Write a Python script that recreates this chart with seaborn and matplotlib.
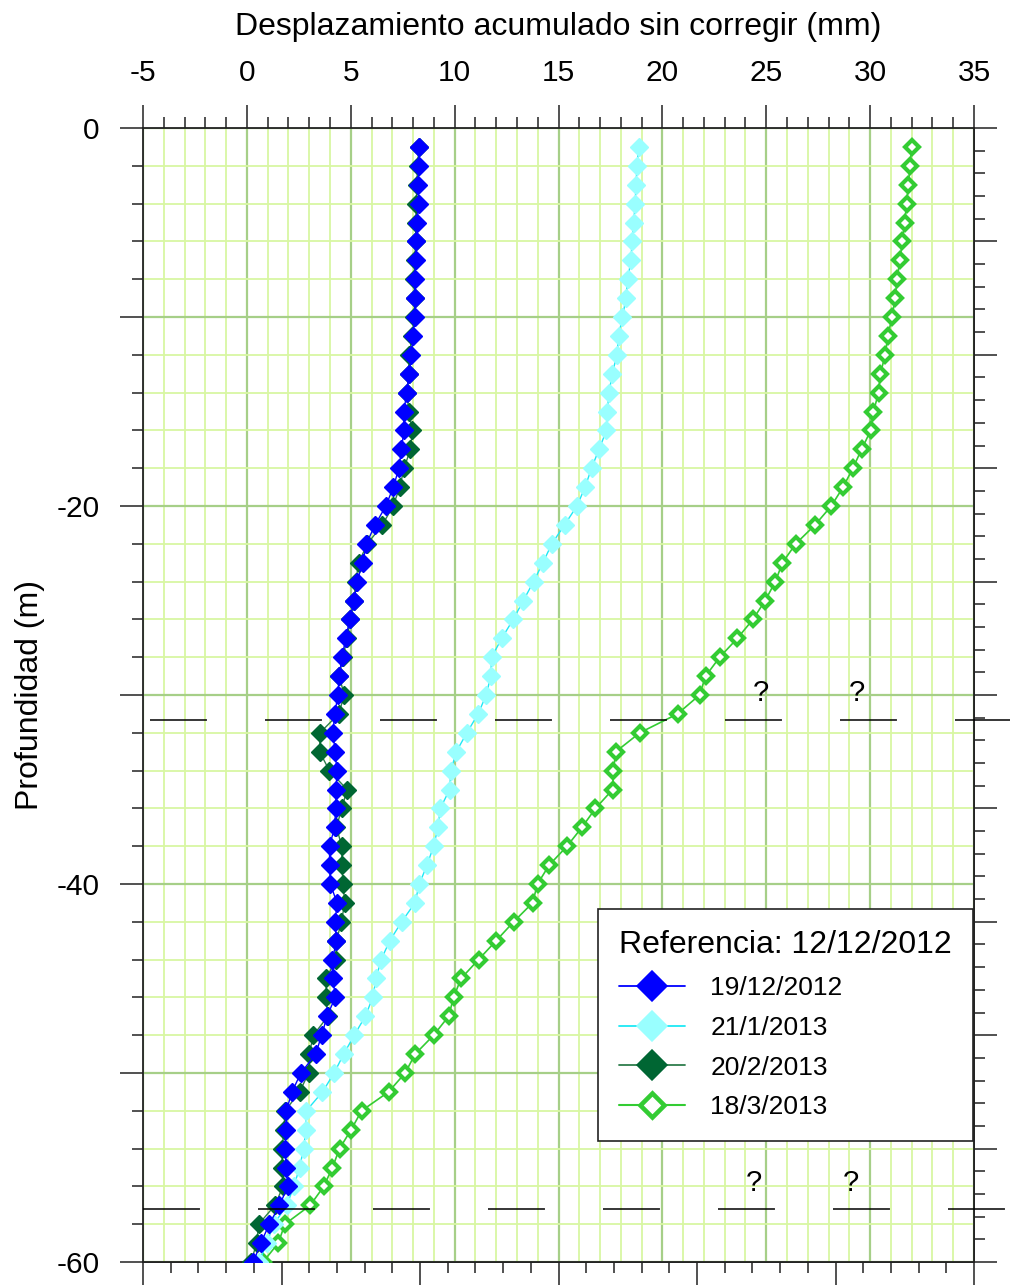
import numpy as np
import pandas as pd
import matplotlib
matplotlib.use("Agg")
import matplotlib.pyplot as plt
import seaborn as sns
from matplotlib.ticker import MultipleLocator, FuncFormatter, NullFormatter
from matplotlib.lines import Line2D

# ---------------- data ----------------
depth = list(range(1, 61))  # m (plotted as negative depth)

disp_19_12_2012 = [8.28, 8.28, 8.25, 8.27, 8.19, 8.16, 8.12, 8.08, 8.09, 8.08,
                   8.00, 7.92, 7.81, 7.69, 7.56, 7.56, 7.44, 7.32, 7.05, 6.69,
                   6.17, 5.75, 5.58, 5.30, 5.16, 4.95, 4.76, 4.58, 4.44, 4.38,
                   4.23, 4.14, 4.25, 4.33, 4.30, 4.28, 4.22, 3.98, 3.98, 4.02,
                   4.34, 4.25, 4.31, 4.12, 4.15, 4.25, 3.86, 3.60, 3.31, 2.60,
                   2.17, 1.90, 1.88, 1.84, 1.89, 1.97, 1.57, 1.08, 0.67, 0.31]

disp_21_1_2013 = [18.86, 18.78, 18.73, 18.69, 18.62, 18.54, 18.49, 18.33, 18.25, 18.08,
                  17.89, 17.82, 17.58, 17.44, 17.34, 17.31, 16.95, 16.59, 16.28, 15.89,
                  15.29, 14.68, 14.25, 13.80, 13.31, 12.82, 12.27, 11.78, 11.74, 11.52,
                  11.13, 10.59, 10.08, 9.82, 9.76, 9.31, 9.20, 8.99, 8.67, 8.30,
                  8.09, 7.45, 6.88, 6.46, 6.22, 6.06, 5.70, 5.17, 4.66, 4.20,
                  3.64, 2.86, 2.84, 2.73, 2.54, 2.26, 1.92, 1.30, 0.95, 0.60]

disp_20_2_2013 = [8.28, 8.22, 8.18, 8.16, 8.14, 8.12, 8.08, 8.05, 8.07, 8.06,
                  7.95, 7.82, 7.78, 7.72, 7.78, 7.97, 7.87, 7.57, 7.36, 7.04,
                  6.52, 5.80, 5.38, 5.24, 5.16, 4.98, 4.82, 4.63, 4.44, 4.69,
                  4.42, 3.52, 3.50, 3.97, 4.82, 4.57, 4.31, 4.57, 4.57, 4.63,
                  4.71, 4.55, 4.31, 4.28, 3.83, 3.80, 3.90, 3.20, 3.00, 2.97,
                  2.54, 1.84, 1.78, 1.70, 1.70, 1.74, 1.35, 0.57, 0.47, 0.20]

disp_18_3_2013 = [32.00, 31.92, 31.84, 31.76, 31.66, 31.55, 31.43, 31.30, 31.20, 31.06,
                  30.85, 30.73, 30.49, 30.41, 30.16, 30.03, 29.59, 29.17, 28.70, 28.13,
                  27.35, 26.42, 25.78, 25.44, 24.95, 24.36, 23.61, 22.76, 22.08, 21.79,
                  20.73, 18.91, 17.76, 17.64, 17.61, 16.78, 16.13, 15.41, 14.55, 13.99,
                  13.75, 12.84, 12.00, 11.15, 10.31, 9.95, 9.71, 8.99, 8.10, 7.62,
                  6.82, 5.52, 5.02, 4.46, 4.12, 3.70, 3.05, 1.83, 1.51, 0.78]

series_labels = ["19/12/2012", "21/1/2013", "20/2/2013", "18/3/2013"]
legend_title = "Referencia: 12/12/2012"
x_label = "Desplazamiento acumulado sin corregir (mm)"
y_label = "Profundidad (m)"
dash_depths = [31.3, 57.2]
qmark_x = [24.76, 29.38, 24.42, 29.09]
qmark_depth = [29.9, 29.9, 55.8, 55.8]

# ---------------- style ----------------
sns.set_style("white")
plt.rcParams["font.family"] = ["Liberation Sans", "DejaVu Sans"]
plt.rcParams["lines.scale_dashes"] = False
plt.rcParams["text.color"] = "black"
plt.rcParams["axes.labelcolor"] = "black"
plt.rcParams["xtick.color"] = "black"
plt.rcParams["ytick.color"] = "black"

W, H = 1011, 1287
fig = plt.figure(figsize=(W / 100, H / 100), dpi=100)
ax = fig.add_axes([143 / W, 1 - 1262 / H, 831 / W, 1134 / H])

styles = {
    "19/12/2012": dict(color="#0000ff", mfc="#0000ff", mec="#0000ff", mew=1.0, ms=9.0, lw=1.0, z=6),
    "21/1/2013": dict(color="#1ee8f5", mfc="#99ffff", mec="#99ffff", mew=1.0, ms=9.0, lw=1.0, z=4),
    "20/2/2013": dict(color="#2e7d4c", mfc="#006633", mec="#006633", mew=1.0, ms=9.0, lw=1.0, z=5),
    "18/3/2013": dict(color="#33cc33", mfc="white", mec="#33cc33", mew=3.0, ms=7.0, lw=1.2, z=3),
}
values = {
    "19/12/2012": disp_19_12_2012,
    "21/1/2013": disp_21_1_2013,
    "20/2/2013": disp_20_2_2013,
    "18/3/2013": disp_18_3_2013,
}

for lab in ["18/3/2013", "21/1/2013", "20/2/2013", "19/12/2012"]:
    st = styles[lab]
    df = pd.DataFrame({"x": values[lab], "y": -np.array(depth, dtype=float)})
    sns.lineplot(data=df, x="x", y="y", orient="y", sort=False, estimator=None,
                 ax=ax, color=st["color"], lw=st["lw"], marker="D",
                 markersize=st["ms"], markerfacecolor=st["mfc"],
                 markeredgecolor=st["mec"], markeredgewidth=st["mew"],
                 zorder=st["z"], legend=False)

ax.set_xlim(-5, 35)
ax.set_ylim(-60, 0)

# grid
ax.xaxis.set_major_locator(MultipleLocator(5))
ax.xaxis.set_minor_locator(MultipleLocator(1))
ax.yaxis.set_major_locator(MultipleLocator(10))
ax.yaxis.set_minor_locator(MultipleLocator(2))
ax.set_axisbelow(True)
ax.grid(which="minor", color="#d8f7a2", lw=1.3)
ax.grid(which="major", color="#a6cf88", lw=1.6)

spine_col = "#222222"
for s in ax.spines.values():
    s.set_color(spine_col)
    s.set_linewidth(1.3)

# top axis
ax.xaxis.tick_top()
ax.xaxis.set_label_position("top")
ax.xaxis.set_major_formatter(FuncFormatter(lambda v, p: f"{int(round(v))}"))
ax.tick_params(axis="x", which="major", length=16.5, width=1.1, pad=13, labelsize=21.5,
               color=spine_col, labelcolor="black", top=True, bottom=False,
               labeltop=True, labelbottom=False)
ax.tick_params(axis="x", which="minor", length=8, width=1.1, color=spine_col,
               top=True, bottom=False)

# left axis
ax.yaxis.set_major_formatter(FuncFormatter(
    lambda v, p: f"{int(round(v))}" if int(round(v)) % 20 == 0 else ""))
ax.tick_params(axis="y", which="major", length=16.5, width=1.1, pad=15, labelsize=21.5,
               color=spine_col, labelcolor="black", left=True, right=False)
ax.tick_params(axis="y", which="minor", length=8, width=1.1, color=spine_col,
               left=True, right=False)

ax.set_xlabel(x_label, fontsize=23, labelpad=17, color="black")
ax.set_ylabel(y_label, fontsize=23, labelpad=8, color="black")

# bottom secondary axis (different scale, ticks only)
sec_b = ax.secondary_xaxis("bottom", functions=(lambda x: (x + 5) * 0.75,
                                                lambda u: u / 0.75 - 5))
sec_b.xaxis.set_major_locator(MultipleLocator(5))
sec_b.xaxis.set_minor_locator(MultipleLocator(1))
sec_b.xaxis.set_major_formatter(NullFormatter())
sec_b.tick_params(which="major", length=16.5, width=1.1, color=spine_col, labelbottom=False)
sec_b.tick_params(which="minor", length=8, width=1.1, color=spine_col)
for s in sec_b.spines.values():
    s.set_color(spine_col)
    s.set_linewidth(1.3)

# right secondary axis (different scale, ticks only)
sec_r = ax.secondary_yaxis("right", functions=(lambda y: (y + 60) * 50 / 60,
                                               lambda u: u * 60 / 50 - 60))
sec_r.yaxis.set_major_locator(MultipleLocator(5))
sec_r.yaxis.set_minor_locator(MultipleLocator(1))
sec_r.yaxis.set_major_formatter(NullFormatter())
sec_r.tick_params(which="major", length=16.5, width=1.1, color=spine_col, labelright=False)
sec_r.tick_params(which="minor", length=8, width=1.1, color=spine_col)
for s in sec_r.spines.values():
    s.set_color(spine_col)
    s.set_linewidth(1.3)

# dashed horizon lines extending beyond the frame
ax.plot([-4.66, 36.73], [-dash_depths[0], -dash_depths[0]], color="black", lw=1.1,
        dashes=(41, 41.8), clip_on=False, zorder=7)
ax.plot([-5.0, 36.6], [-dash_depths[1], -dash_depths[1]], color="black", lw=1.1,
        dashes=(41, 41.8), clip_on=False, zorder=7)

for qx, qd in zip(qmark_x, qmark_depth):
    ax.text(qx, -qd, "?", ha="center", va="center", fontsize=21, color="black", zorder=8)

# legend
handles = []
for lab in series_labels:
    st = styles[lab]
    handles.append(Line2D([0], [0], color=st["color"], lw=st["lw"] + 0.3, marker="D",
                          markersize=st["ms"] * 1.7, markerfacecolor=st["mfc"],
                          markeredgecolor=st["mec"], markeredgewidth=st["mew"] * 1.1))
leg = ax.legend(handles, series_labels, title=legend_title, loc="upper right",
                bbox_to_anchor=(973 / W, 1 - 909 / H), bbox_transform=fig.transFigure,
                borderaxespad=0, frameon=True, fancybox=False, framealpha=1,
                edgecolor="#222222", fontsize=19, title_fontsize=23,
                handlelength=2.5, handletextpad=0.95, labelspacing=0.6,
                borderpad=0.8, alignment="left")
leg.get_frame().set_linewidth(1.2)
leg.set_zorder(10)

fig.savefig("out.png", dpi=100)
